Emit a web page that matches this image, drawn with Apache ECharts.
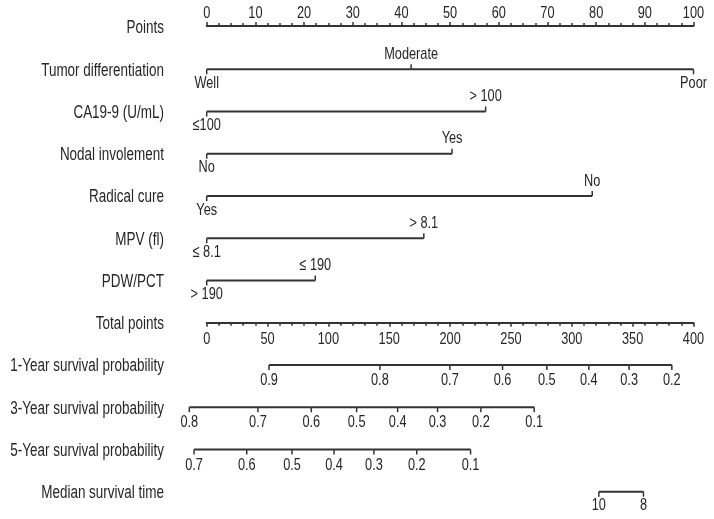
<!DOCTYPE html>
<html>
<head>
<meta charset="utf-8">
<script src="https://cdn.jsdelivr.net/npm/echarts@6/dist/echarts.min.js"></script>
<style>
  html, body { margin: 0; padding: 0; background: #fff; }
  #chart { width: 714px; height: 519px; }
</style>
</head>
<body>
<div id="chart"></div>
<script>
// row names (left side)
const rowNames = [
  'Points',
  'Tumor differentiation',
  'CA19-9 (U/mL)',
  'Nodal involement',
  'Radical cure',
  'MPV (fl)',
  'PDW/PCT',
  'Total points',
  '1-Year survival probability',
  '3-Year survival probability',
  '5-Year survival probability',
  'Median survival time'
]

// axis tick labels
const pointTicks = [0, 10, 20, 30, 40, 50, 60, 70, 80, 90, 100]
const totalTicks = [0, 50, 100, 150, 200, 250, 300, 350, 400]

// predictor scales, in points (0-100)
const tumorLevels = ['Well', 'Moderate', 'Poor']
const tumorPoints = [0, 42, 100]
const caLevels = ['\u2264100', '> 100']
const caPoints = [0, 57.3]
const nodalLevels = ['No', 'Yes']
const nodalPoints = [0, 50.4]
const cureLevels = ['Yes', 'No']
const curePoints = [0, 79.2]
const mpvLevels = ['\u2264 8.1', '> 8.1']
const mpvPoints = [0, 44.6]
const pdwLevels = ['> 190', '\u2264 190']
const pdwPoints = [0, 22.3]

// outcome scales, in total points (0-400)
const surv1Labels = ['0.9', '0.8', '0.7', '0.6', '0.5', '0.4', '0.3', '0.2']
const surv1Points = [51.2, 142.3, 199.8, 243.1, 279.5, 314, 347.1, 382.2]
const surv3Labels = ['0.8', '0.7', '0.6', '0.5', '0.4', '0.3', '0.2', '0.1']
const surv3Points = [-14.3, 42.1, 85.9, 123.2, 156.9, 189.7, 225.3, 269.1]
const surv5Labels = ['0.7', '0.6', '0.5', '0.4', '0.3', '0.2', '0.1']
const surv5Points = [-10.4, 32.9, 70.1, 104.6, 137.4, 172.6, 216.8]
const medianLabels = ['10', '8']
const medianPoints = [322.2, 358.9]

// Liberation Sans squeezed horizontally to look like the condensed original
const FONT = '"Liberation Sans", Arial, sans-serif'
const LINE = '#333'
const TEXT = '#262626'

const narrowText = (text, x, y, align, vAlign, size, squeeze) => ({
  type: 'text',
  x,
  y,
  scaleX: squeeze,
  style: {
    text,
    font: size + 'px ' + FONT,
    fill: TEXT,
    textAlign: align,
    textVerticalAlign: vAlign
  }
})

// one row of the nomogram: a line through the ticks, labels on one side
const makeRow = (row, values, labels, xAxisIndex, sideOf, gapBelow) => ({
  type: 'custom',
  xAxisIndex,
  yAxisIndex: 0,
  silent: true,
  clip: false,
  data: values.map(v => [v, row]),
  renderItem: (params, api) => {
    const i = params.dataIndex
    const p = api.coord([api.value(0), row])
    const up = sideOf(i) === 'above'
    const children = []
    if (i < values.length - 1) {
      const q = api.coord([values[i + 1], row])
      children.push({
        type: 'line',
        shape: { x1: p[0], y1: p[1], x2: q[0], y2: q[1] },
        style: { stroke: LINE, lineWidth: 2 }
      })
    }
    children.push({
      type: 'line',
      shape: { x1: p[0], y1: p[1], x2: p[0], y2: p[1] + (up ? -5 : 5) },
      style: { stroke: LINE, lineWidth: 1.5 }
    })
    children.push(narrowText(labels[i], p[0], up ? p[1] - 15 : p[1] + gapBelow, 'center', 'middle', 17, 0.75))
    return { type: 'group', children }
  }
})

// tick labels of the points / total points axes
const tickLabels = (ticks, xAxisIndex, yAxisIndex, yVal, dy) => ({
  type: 'custom',
  xAxisIndex,
  yAxisIndex,
  silent: true,
  clip: false,
  data: ticks.map(v => [v, yVal]),
  renderItem: (params, api) => {
    const p = api.coord([api.value(0), api.value(1)])
    return narrowText(String(ticks[params.dataIndex]), p[0], p[1] + dy, 'center', 'middle', 17, 0.75)
  }
})

// row titles on the left
const rowTitles = {
  type: 'custom',
  xAxisIndex: 0,
  yAxisIndex: 0,
  silent: true,
  clip: false,
  data: rowNames.map((n, i) => [0, i]),
  renderItem: (params, api) => {
    const p = api.coord([0, api.value(1)])
    return narrowText(rowNames[params.dataIndex], p[0] - 42.7, p[1] + 1.5, 'right', 'middle', 17.5, 0.77)
  }
}

const alternate = i => (i % 2 === 1 ? 'above' : 'below')
const below = () => 'below'

const chart = echarts.init(document.getElementById('chart'), null, { renderer: 'canvas' })

const option = {
  animation: false,
  backgroundColor: '#fff',
  grid: [
    // main body, one category row per line
    { left: 206.7, right: 20.5, top: 27.06, height: 464.64, outerBoundsMode: 'none' },
    // points axis
    { left: 206.7, right: 20.5, top: 25, height: 1, outerBoundsMode: 'none' },
    // total points axis
    { left: 206.7, right: 20.5, top: 321.7, height: 1, outerBoundsMode: 'none' }
  ],
  xAxis: [
    { gridIndex: 0, type: 'value', min: 0, max: 100, show: false },
    { gridIndex: 0, type: 'value', min: 0, max: 400, show: false },
    {
      gridIndex: 1,
      type: 'value',
      position: 'top',
      min: 0,
      max: 100,
      interval: 10,
      axisLine: { show: true, lineStyle: { color: LINE, width: 2 } },
      axisTick: { show: true, length: 4, lineStyle: { color: LINE, width: 1.5 } },
      minorTick: { show: true, splitNumber: 4, length: 3, lineStyle: { color: LINE, width: 1.5 } },
      axisLabel: { show: false },
      splitLine: { show: false }
    },
    {
      gridIndex: 2,
      type: 'value',
      position: 'bottom',
      min: 0,
      max: 400,
      interval: 50,
      axisLine: { show: true, lineStyle: { color: LINE, width: 2 } },
      axisTick: { show: true, length: 4, lineStyle: { color: LINE, width: 1.5 } },
      minorTick: { show: true, splitNumber: 5, length: 3, lineStyle: { color: LINE, width: 1.5 } },
      axisLabel: { show: false },
      splitLine: { show: false }
    }
  ],
  yAxis: [
    {
      gridIndex: 0,
      type: 'category',
      data: rowNames,
      inverse: true,
      boundaryGap: false,
      show: false
    },
    { gridIndex: 1, type: 'value', min: 0, max: 1, show: false },
    { gridIndex: 2, type: 'value', min: 0, max: 1, show: false }
  ],
  series: [
    rowTitles,
    tickLabels(pointTicks, 2, 1, 1, -12),
    tickLabels(totalTicks, 3, 2, 0, 16.5),
    makeRow(1, tumorPoints, tumorLevels, 0, alternate, 14),
    makeRow(2, caPoints, caLevels, 0, alternate, 14),
    makeRow(3, nodalPoints, nodalLevels, 0, alternate, 14),
    makeRow(4, curePoints, cureLevels, 0, alternate, 14),
    makeRow(5, mpvPoints, mpvLevels, 0, alternate, 14),
    makeRow(6, pdwPoints, pdwLevels, 0, alternate, 14),
    makeRow(8, surv1Points, surv1Labels, 1, below, 15.5),
    makeRow(9, surv3Points, surv3Labels, 1, below, 15.5),
    makeRow(10, surv5Points, surv5Labels, 1, below, 15.5),
    makeRow(11, medianPoints, medianLabels, 1, below, 14)
  ]
}

chart.setOption(option)
window.addEventListener('resize', () => chart.resize())
</script>
</body>
</html>
